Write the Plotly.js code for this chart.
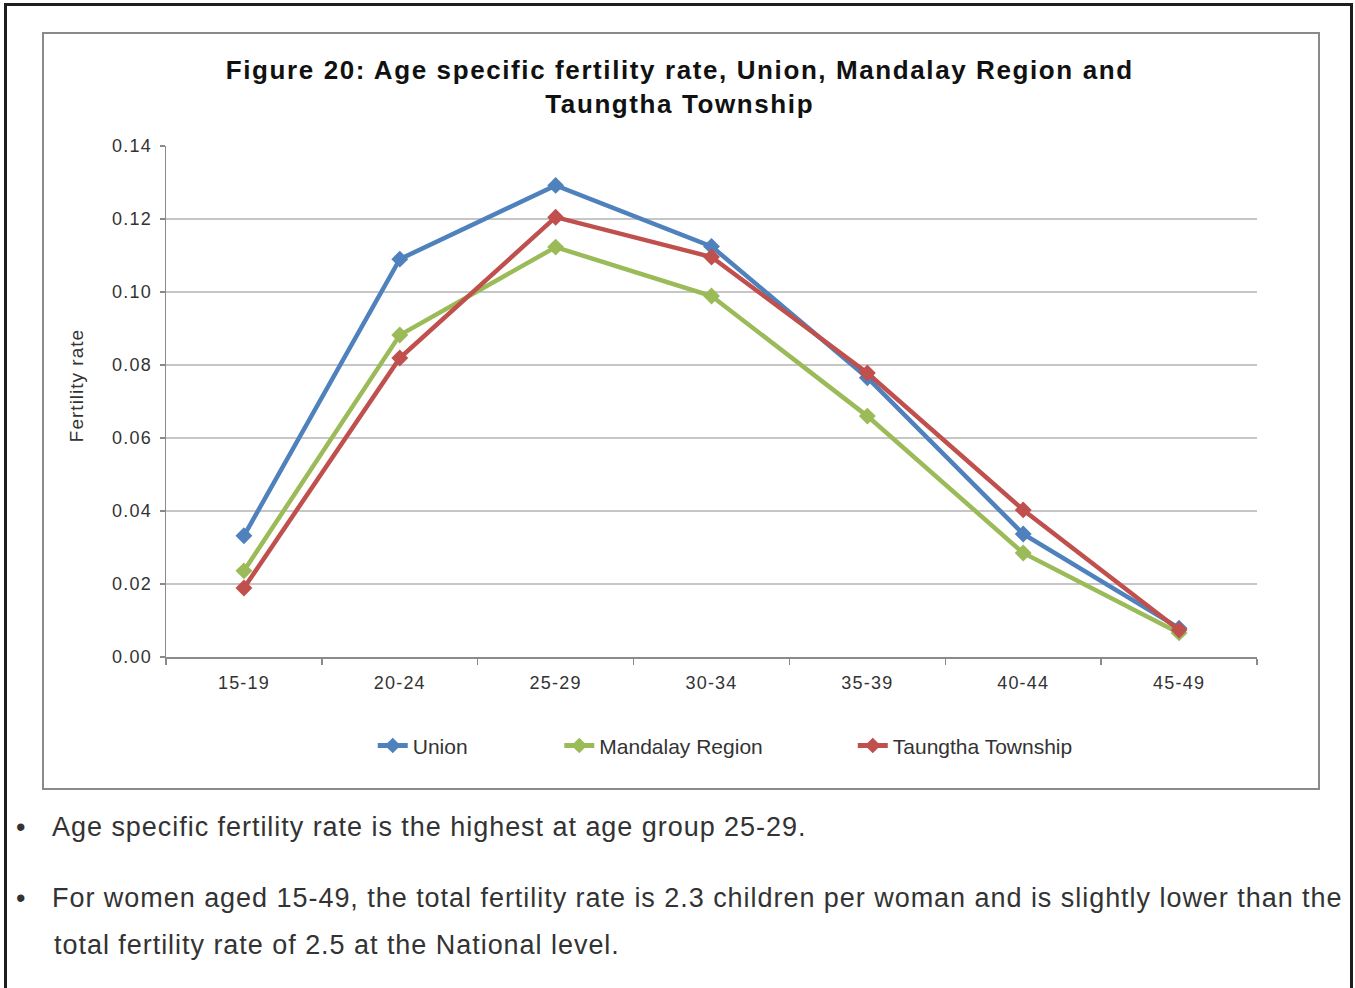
<!DOCTYPE html>
<html>
<head>
<meta charset="utf-8">
<script src="https://cdn.plot.ly/plotly-3.0.1.min.js"></script>
<style>
  html, body { margin: 0; padding: 0; background: #ffffff; width: 1355px; height: 988px; overflow: hidden; }
  #outer { position: absolute; left: 4px; top: 3px; width: 1349px; height: 1000px; border: 3px solid #1e1e1e; box-sizing: border-box; }
  #chartbox { position: absolute; left: 42px; top: 32px; width: 1278px; height: 758px; border: 2px solid #8a8a8a; box-sizing: border-box; background: #fff; }
  #chart { width: 1274px; height: 754px; }
  .bul { position: absolute; font-family: "Liberation Sans", Arial, sans-serif; font-size: 27px; letter-spacing: 0.96px; color: #333333; white-space: nowrap; }
  #chart .gtitle { letter-spacing: 1.6px; }
  #chart .xtick text, #chart .ytick text { letter-spacing: 1.2px; }
  #chart .annotation-text { letter-spacing: 1px; }
</style>
</head>
<body>
<div id="outer"></div>
<div id="chartbox"><div id="chart"></div></div>
<div class="bul" style="left:16px; top:812px;">•</div>
<div class="bul" style="left:52px; top:812px;">Age specific fertility rate is the highest at age group 25-29.</div>
<div class="bul" style="left:16px; top:883px;">•</div>
<div class="bul" style="left:52px; top:883px;">For women aged 15-49, the total fertility rate is 2.3 children per woman and is slightly lower than the</div>
<div class="bul" style="left:54px; top:930px;">total fertility rate of 2.5 at the National level.</div>
<script>
const ageGroups = ["15-19", "20-24", "25-29", "30-34", "35-39", "40-44", "45-49"];
const unionRate = [0.0332, 0.1090, 0.1292, 0.1125, 0.0765, 0.0337, 0.0079];
const mandalayRate = [0.0236, 0.0882, 0.1123, 0.0989, 0.0660, 0.0285, 0.0066];
const taungthaRate = [0.0189, 0.0819, 0.1205, 0.1096, 0.0778, 0.0403, 0.0074];
const yTicks = [0, 0.02, 0.04, 0.06, 0.08, 0.10, 0.12, 0.14];

const FONT = '"Liberation Sans", Arial, sans-serif';

function series(name, y, color, legendId) {
  return {
    type: 'scatter', mode: 'lines+markers', name: name,
    x: ageGroups, y: y, legend: legendId,
    line: { color: color, width: 4.5 },
    marker: { symbol: 'diamond', size: 13, color: color, line: { width: 0 } }
  };
}

const data = [
  series('Union', unionRate, '#4f81bd', 'legend'),
  series('Mandalay Region', mandalayRate, '#9bbb59', 'legend2'),
  series('Taungtha Township', taungthaRate, '#c0504d', 'legend3')
];

const legendBase = {
  orientation: 'h', yanchor: 'middle', y: -0.174, xanchor: 'left',
  font: { family: FONT, size: 21, color: '#333333' },
  bgcolor: 'rgba(0,0,0,0)', borderwidth: 0, itemsizing: 'constant'
};

const layout = {
  width: 1274, height: 754,
  margin: { l: 122, r: 61, t: 112, b: 131, pad: 0 },
  paper_bgcolor: '#ffffff', plot_bgcolor: '#ffffff',
  font: { family: FONT, color: '#333333' },
  title: {
    text: 'Figure 20: Age specific fertility rate, Union, Mandalay Region and<br>Taungtha Township',
    font: { family: FONT, size: 26, color: '#111111', weight: 'bold' },
    x: 0.499, xanchor: 'center', y: 0.940, yanchor: 'middle', yref: 'container'
  },
  xaxis: {
    type: 'category', range: [-0.5, 6.5],
    showline: true, linecolor: '#8a8a8a', linewidth: 1.5,
    ticks: 'outside', tickson: 'boundaries', ticklen: 6, tickcolor: '#8a8a8a', tickwidth: 1.5,
    showgrid: false, zeroline: false, ticklabelstandoff: 9,
    tickfont: { family: FONT, size: 18, color: '#333333' }
  },
  yaxis: {
    range: [0, 0.14], tickvals: yTicks, tickformat: '.2f',
    showline: true, linecolor: '#8a8a8a', linewidth: 1.5,
    ticks: 'outside', ticklen: 5, tickcolor: '#8a8a8a', tickwidth: 1.5,
    showgrid: true, gridcolor: '#c6c6c6', gridwidth: 1.5, zeroline: false,
    ticklabelstandoff: 4,
    tickfont: { family: FONT, size: 18, color: '#333333' }
  },
  annotations: [{
    text: 'Fertility rate', xref: 'paper', yref: 'paper',
    x: -0.0825, y: 0.532, xanchor: 'center', yanchor: 'middle',
    textangle: -90, showarrow: false,
    font: { family: FONT, size: 19, color: '#333333' }
  }],
  showlegend: true,
  legend: Object.assign({}, legendBase, { x: 0.1895 }),
  legend2: Object.assign({}, legendBase, { x: 0.3605 }),
  legend3: Object.assign({}, legendBase, { x: 0.6295 })
};

Plotly.newPlot('chart', data, layout, { displayModeBar: false, staticPlot: true });
</script>
</body>
</html>
